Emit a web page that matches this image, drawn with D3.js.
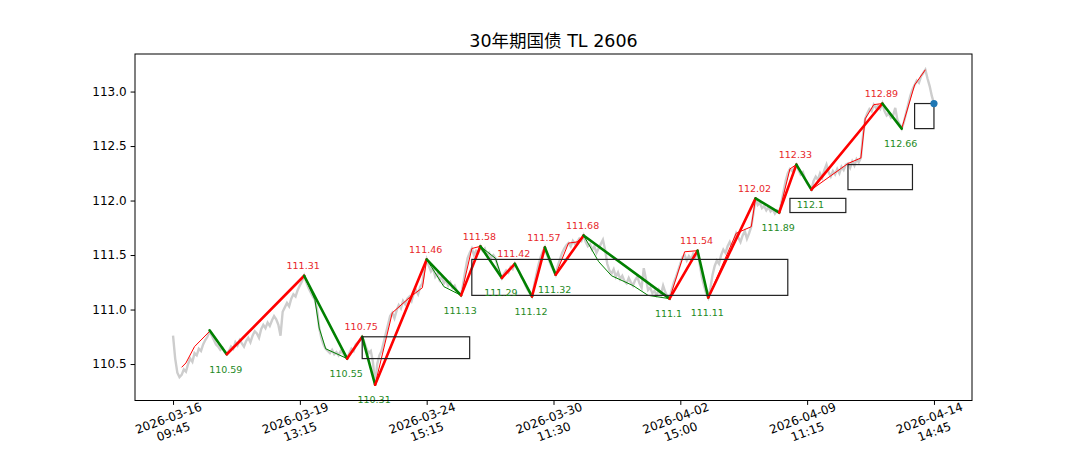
<!DOCTYPE html>
<html><head><meta charset="utf-8">
<script src="https://cdn.jsdelivr.net/npm/d3@7"></script>
<style>body{margin:0;background:#fff} svg{display:block}</style>
</head><body><svg id="c" width="1080" height="450"></svg>
<script>
const title = "30年期国债 TL 2606";

// 15-minute closing prices (index = bar number)
const prices = [
110.76,110.55,110.42,110.38,110.40,110.45,110.43,110.50,110.55,110.52,
110.60,110.58,110.64,110.62,110.68,110.72,110.75,110.80,110.76,110.72,
110.68,110.66,110.63,110.65,110.61,110.59,110.62,110.66,110.64,110.70,
110.67,110.72,110.69,110.66,110.71,110.74,110.70,110.76,110.80,110.78,
110.74,110.82,110.86,110.83,110.88,110.85,110.90,110.94,110.91,110.86,
110.76,110.98,111.02,111.06,111.03,111.10,111.14,111.12,111.18,111.22,
111.26,111.31,111.25,111.20,111.16,111.12,111.09,111.00,110.83,110.74,
110.68,110.64,110.62,110.60,110.63,110.59,110.61,110.58,110.62,110.60,
110.57,110.55,110.60,110.64,110.62,110.68,110.70,110.72,110.75,110.70,
110.64,110.60,110.62,110.52,110.31,110.50,110.58,110.62,110.70,110.78,
110.86,110.94,110.97,110.92,110.99,111.04,111.01,111.08,111.05,111.10,
111.12,111.08,111.15,111.18,111.14,111.21,111.24,111.38,111.46,111.40,
111.35,111.38,111.30,111.33,111.27,111.30,111.24,111.27,111.22,111.25,
111.20,111.22,111.17,111.15,111.13,111.24,111.36,111.47,111.52,111.56,
111.50,111.54,111.52,111.58,111.54,111.56,111.50,111.52,111.48,111.50,
111.47,111.40,111.34,111.29,111.33,111.36,111.34,111.39,111.37,111.42,
111.38,111.35,111.30,111.27,111.22,111.18,111.15,111.12,111.22,111.32,
111.41,111.48,111.53,111.57,111.50,111.45,111.40,111.36,111.32,111.40,
111.46,111.52,111.56,111.59,111.61,111.58,111.63,111.60,111.62,111.65,
111.63,111.68,111.62,111.58,111.60,111.55,111.58,111.52,111.56,111.60,
111.64,111.55,111.42,111.36,111.33,111.37,111.30,111.34,111.28,111.31,
111.26,111.24,111.29,111.25,111.22,111.27,111.30,111.24,111.20,111.38,
111.28,111.18,111.20,111.15,111.17,111.13,111.18,111.14,111.22,111.16,
111.12,111.10,111.18,111.25,111.30,111.36,111.42,111.48,111.50,111.45,
111.49,111.46,111.51,111.48,111.54,111.42,111.30,111.22,111.15,111.11,
111.20,111.32,111.40,111.45,111.42,111.50,111.55,111.52,111.58,111.62,
111.57,111.64,111.70,111.66,111.62,111.68,111.72,111.65,111.70,111.76,
111.88,112.02,111.96,111.98,111.93,111.95,111.91,111.94,111.90,111.92,
111.88,111.91,111.89,111.98,112.08,112.18,112.25,112.29,112.27,112.30,
112.33,112.28,112.24,112.26,112.20,112.16,112.13,112.10,112.18,112.22,
112.19,112.25,112.21,112.28,112.33,112.26,112.22,112.27,112.24,112.29,
112.25,112.31,112.28,112.33,112.34,112.30,112.36,112.32,112.38,112.35,
112.39,112.60,112.75,112.80,112.84,112.82,112.88,112.85,112.87,112.84,
112.89,112.82,112.78,112.80,112.76,112.78,112.85,112.74,112.70,112.66,
112.72,112.80,112.88,112.96,113.02,113.06,113.10,113.08,113.14,113.17,
113.20,113.12,113.05,112.96,112.89
];

const tickIndex = [0, 59, 118, 177, 236, 295, 354];
const tickDates = ["2026-03-16","2026-03-19","2026-03-24","2026-03-30","2026-04-02","2026-04-09","2026-04-14"];
const tickTimes = ["09:45","13:15","15:15","11:30","15:00","11:15","14:45"];
const yTicks = [110.5, 111.0, 111.5, 112.0, 112.5, 113.0];

// thick zigzag pivots
const pivotIndex = [17, 25, 61, 81, 88, 94, 118, 134, 143, 153, 159, 167, 173, 178, 191, 231, 244, 249, 271, 282, 290, 297, 330, 339];
const pivotValue = [110.81,110.59,111.31,110.55,110.75,110.31,111.46,111.13,111.58,111.29,111.42,111.12,111.57,111.32,111.68,111.10,111.54,111.11,112.02,111.89,112.33,112.10,112.89,112.66];
const pivotText  = ["", "110.59","111.31","110.55","110.75","110.31","111.46","111.13","111.58","111.29","111.42","111.12","111.57","111.32","111.68","111.1","111.54","111.11","112.02","111.89","112.33","112.1","112.89","112.66"];

// thin lower-level strokes: [index, value] vertices
const thinUp = [
  [[4,110.47],[6,110.51],[10,110.66],[17,110.80]],
  [[94,110.31],[102,110.97],[110,111.11],[116,111.20],[118,111.46]],
  [[134,111.13],[139,111.56],[143,111.58]],
  [[178,111.32],[184,111.61],[188,111.62],[191,111.68]],
  [[231,111.10],[238,111.53],[244,111.54]],
  [[249,111.11],[262,111.70],[269,111.76],[271,112.02]],
  [[282,111.89],[287,112.29],[290,112.33]],
  [[297,112.10],[314,112.34],[320,112.39],[322,112.75],[326,112.88],[330,112.89]],
  [[339,112.66],[345,113.06],[350,113.20]]
];
const thinDown = [
  [[61,111.31],[66,111.09],[68,110.83],[71,110.64],[81,110.55]],
  [[118,111.46],[126,111.21],[134,111.13]],
  [[143,111.58],[150,111.47],[153,111.29]],
  [[191,111.68],[198,111.44],[204,111.31],[214,111.22],[221,111.13],[231,111.10]]
];

// pivot zones
const boxStart = [88, 139, 287, 314, 345];
const boxEnd   = [138, 286, 313, 344, 354];
const boxLow   = [110.55, 111.13, 111.89, 112.10, 112.66];
const boxHigh  = [110.75, 111.46, 112.02, 112.33, 112.89];

const svg = d3.select("#c");
const L = 135, R = 972, T = 54, B = 400.5;
const n = prices.length - 1;
const allV = prices.concat(pivotValue);
const vmin = d3.min(allV), vmax = d3.max(allV), vr = vmax - vmin;
const x = d3.scaleLinear().domain([-0.05 * n, n * 1.05]).range([L, R]);
const y = d3.scaleLinear().domain([vmin - 0.05 * vr, vmax + 0.05 * vr]).range([B, T]);
const font = "'DejaVu Sans', 'Noto Sans CJK SC', sans-serif";

// grey price line
const line = d3.line().x((d, i) => x(i)).y(d => y(d));
svg.append("path").attr("d", line(prices)).attr("fill", "none")
  .attr("stroke", "#cdcdcd").attr("stroke-width", 2.4).attr("stroke-linejoin", "miter");

const pl = d3.line().x(d => x(d[0])).y(d => y(d[1]));
thinUp.forEach(s => svg.append("path").attr("d", pl(s)).attr("fill", "none").attr("stroke", "red").attr("stroke-width", 1));
thinDown.forEach(s => svg.append("path").attr("d", pl(s)).attr("fill", "none").attr("stroke", "green").attr("stroke-width", 1));

// thick zigzag
for (let k = 0; k < pivotIndex.length - 1; k++) {
  const up = pivotValue[k + 1] > pivotValue[k];
  svg.append("line")
    .attr("x1", x(pivotIndex[k])).attr("y1", y(pivotValue[k]))
    .attr("x2", x(pivotIndex[k + 1])).attr("y2", y(pivotValue[k + 1]))
    .attr("stroke", up ? "red" : "green").attr("stroke-width", 2.6).attr("stroke-linecap", "round");
}

// boxes
boxStart.forEach((s, k) => {
  svg.append("rect")
    .attr("x", x(s)).attr("y", y(boxHigh[k]))
    .attr("width", x(boxEnd[k]) - x(s)).attr("height", y(boxLow[k]) - y(boxHigh[k]))
    .attr("fill", "none").attr("stroke", "#222").attr("stroke-width", 1.2);
});

// pivot labels
pivotIndex.forEach((pi, k) => {
  if (!pivotText[k]) return;
  const isHigh = (k === 0 ? pivotValue[0] > pivotValue[1] : pivotValue[k] > pivotValue[k - 1]);
  svg.append("text")
    .attr("x", x(pi) - 1).attr("y", y(pivotValue[k]) + (isHigh ? -6.5 : 18.5))
    .attr("text-anchor", "middle").attr("font-family", font).attr("font-size", 9.5)
    .attr("fill", isHigh ? "#e8282b" : "#1e8a1e").text(pivotText[k]);
});

// last price dot
svg.append("circle").attr("cx", x(n)).attr("cy", y(prices[n])).attr("r", 3.6)
  .attr("fill", "#1f77b4");

// frame
svg.append("rect").attr("x", L).attr("y", T).attr("width", R - L).attr("height", B - T)
  .attr("fill", "none").attr("stroke", "#000").attr("stroke-width", 1);

// y axis
const ya = svg.append("g").attr("transform", `translate(${L},0)`)
  .call(d3.axisLeft(y).tickValues(yTicks).tickFormat(d3.format(".1f")).tickSize(4.4).tickPadding(4));
ya.select(".domain").remove();
ya.selectAll("text").attr("font-family", font).attr("font-size", 12).attr("fill", "#000");
ya.selectAll("line").attr("stroke", "#000");

// x axis
const xa = svg.append("g").attr("transform", `translate(0,${B})`)
  .call(d3.axisBottom(x).tickValues(tickIndex).tickFormat("").tickSize(4.4));
xa.select(".domain").remove();
xa.selectAll("line").attr("stroke", "#000");
tickIndex.forEach((ti, k) => {
  const g = svg.append("g").attr("transform", `translate(${x(ti) - 2},425) rotate(-20)`);
  const t = g.append("text").attr("text-anchor", "middle").attr("font-family", font)
    .attr("font-size", 12).attr("fill", "#000");
  t.append("tspan").attr("x", 0).attr("y", -7.2).attr("dominant-baseline", "central").text(tickDates[k]);
  t.append("tspan").attr("x", 0).attr("y", 7.2).attr("dominant-baseline", "central").text(tickTimes[k]);
});

// title
svg.append("text").attr("x", (L + R) / 2).attr("y", 47).attr("text-anchor", "middle")
  .attr("font-family", font).attr("font-size", 17.5).attr("fill", "#000").text(title);
</script></body></html>
